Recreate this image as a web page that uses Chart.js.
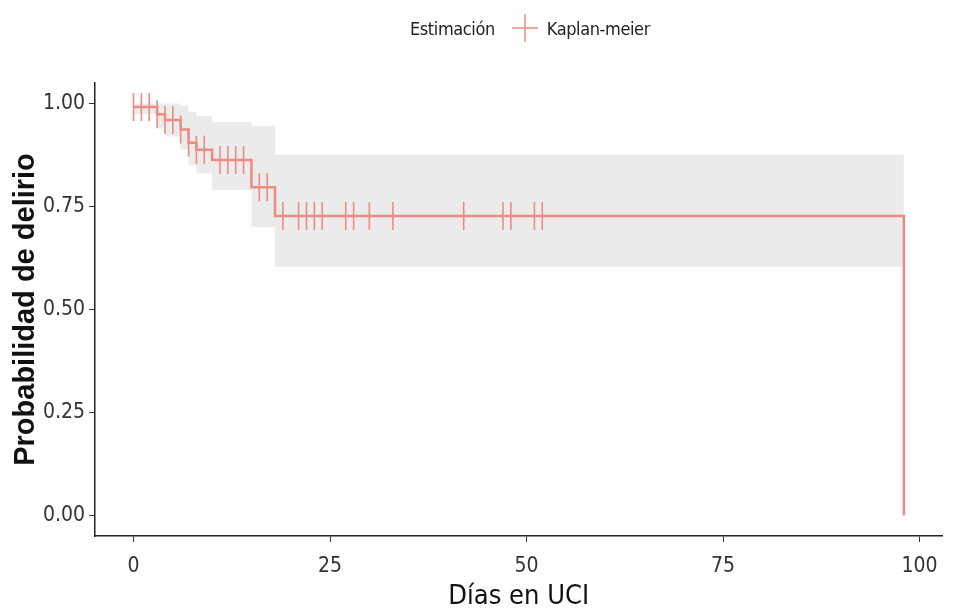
<!DOCTYPE html>
<html>
<head>
<meta charset="utf-8">
<script src="https://cdn.jsdelivr.net/npm/chart.js@4"></script>
<style>
  body { margin: 0; background: #fff; }
  #contenedor { position: relative; width: 958px; height: 613px; }
  #leyenda {
    position: absolute; left: 410px; top: 13px;
    display: flex; align-items: center;
    font-family: 'Liberation Sans Narrow', 'DejaVu Sans Condensed', sans-serif;
    font-size: 18px; letter-spacing: -0.4px; color: #222;
  }
  #leyenda svg { margin: 0 8px 0 16px; }
</style>
</head>
<body>
<div id="contenedor">
  <canvas id="kmChart" width="958" height="613"></canvas>
  <div id="leyenda">
    <span>Estimación</span>
    <svg width="28" height="30"><line x1="1" y1="15" x2="27" y2="15" stroke="#ee8a84" stroke-width="1.5"/><line x1="14" y1="1" x2="14" y2="29" stroke="#ee8a84" stroke-width="1.5"/></svg>
    <span>Kaplan-meier</span>
  </div>
</div>
<script>
// curva de Kaplan-Meier: tiempos de evento y supervivencia estimada
const tiempos = [0, 3, 4, 6, 7, 8, 10, 15, 18, 98];
const supervivencia = [0.992, 0.974, 0.96, 0.937, 0.905, 0.888, 0.863, 0.797, 0.727, 0];
// intervalo de confianza al 95%
const limiteSuperior = [1, 1, 1, 0.995, 0.98, 0.97, 0.955, 0.945, 0.876, 0.876];
const limiteInferior = [0.975, 0.94, 0.92, 0.89, 0.85, 0.83, 0.79, 0.70, 0.604, 0.604];
// dias con pacientes censurados
const censurados = [0, 1, 2, 3, 4, 5, 6, 7, 8, 9, 11, 12, 13, 14, 16, 17, 19, 21, 22, 23, 24, 27, 28, 30, 33, 42, 47, 48, 51, 52];
const ticksX = [0, 25, 50, 75, 100];
const ticksY = [0, 0.25, 0.5, 0.75, 1];

const colorKM = '#ee8a84';
const fuenteEstrecha = "'Liberation Sans Narrow', 'DejaVu Sans Condensed', sans-serif";

function nivelEn(t) {
    let s = supervivencia[0];
    for (let i = 0; i < tiempos.length; i++) {
        if (tiempos[i] <= t) s = supervivencia[i];
    }
    return s;
}

const puntos = (ys) => tiempos.map((t, i) => ({x: t, y: ys[i]}));

const ctx = document.getElementById('kmChart').getContext('2d');
new Chart(ctx, {
    type: 'line',
    data: {
        datasets: [
            {
                label: 'superior',
                data: puntos(limiteSuperior),
                stepped: true,
                borderWidth: 0,
                pointRadius: 0,
                backgroundColor: '#ebebeb',
                fill: '+1',
                order: 4
            },
            {
                label: 'inferior',
                data: puntos(limiteInferior),
                stepped: true,
                borderWidth: 0,
                pointRadius: 0,
                fill: false,
                order: 3
            },
            {
                label: 'Kaplan-meier',
                data: puntos(supervivencia),
                stepped: true,
                borderColor: colorKM,
                borderWidth: 2.5,
                pointRadius: 0,
                fill: false,
                order: 2
            },
            {
                // marcas de censura verticales
                label: 'censura',
                type: 'scatter',
                data: censurados.map(t => ({x: t, y: nivelEn(t)})),
                pointStyle: 'line',
                rotation: 90,
                pointRadius: 14,
                borderColor: colorKM,
                borderWidth: 1.6,
                order: 1
            }
        ]
    },
    options: {
        responsive: false,
        animation: false,
        layout: { padding: { top: 83, right: 5 } },
        plugins: { legend: { display: false }, tooltip: { enabled: false } },
        scales: {
            x: {
                type: 'linear',
                min: -4.9,
                max: 102.9,
                afterBuildTicks: (s) => { s.ticks = ticksX.map(v => ({value: v})); },
                afterFit: (s) => { s.height = 77; },
                grid: { drawOnChartArea: false, tickLength: 6, color: '#333' },
                border: { color: '#222', width: 1.5 },
                ticks: { color: '#333', padding: 12, font: { family: fuenteEstrecha, size: 21 } },
                title: {
                    display: true, text: 'Días en UCI', color: '#111',
                    padding: { top: 0, bottom: 0 },
                    font: { family: fuenteEstrecha, size: 27 }
                }
            },
            y: {
                min: -0.05,
                max: 1.05,
                afterBuildTicks: (s) => { s.ticks = ticksY.map(v => ({value: v})); },
                afterFit: (s) => { s.width = 95; },
                grid: { drawOnChartArea: false, tickLength: 6, color: '#333' },
                border: { color: '#222', width: 1.5 },
                ticks: {
                    color: '#333', padding: 4,
                    font: { family: fuenteEstrecha, size: 21 },
                    callback: (v) => v.toFixed(2)
                },
                title: {
                    display: true, text: 'Probabilidad de delirio', color: '#111',
                    padding: { top: 9, bottom: 0 },
                    font: { family: "'Liberation Sans', Arial, sans-serif", size: 29, weight: 'bold' }
                }
            }
        }
    }
});
</script>
</body>
</html>
